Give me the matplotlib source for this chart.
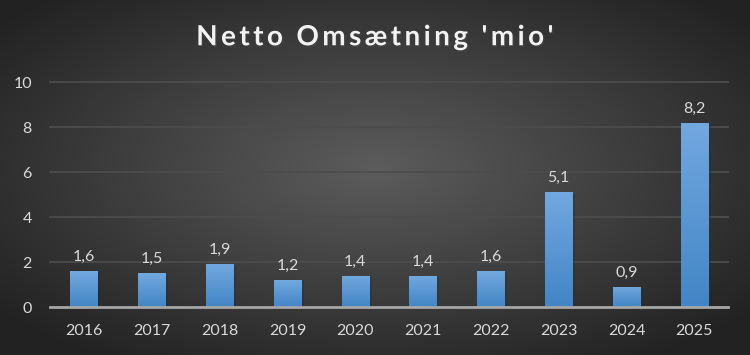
import matplotlib.pyplot as plt
import matplotlib.patheffects as pe
import numpy as np

# data
years = ['2016', '2017', '2018', '2019', '2020', '2021', '2022', '2023', '2024', '2025']
revenue = [1.6, 1.5, 1.9, 1.2, 1.4, 1.4, 1.6, 5.1, 0.9, 8.2]
labels = ['1,6', '1,5', '1,9', '1,2', '1,4', '1,4', '1,6', '5,1', '0,9', '8,2']
yticks = [0, 2, 4, 6, 8, 10]
title = "Netto Omsætning 'mio'"

plt.rcParams['font.family'] = ['Lato', 'DejaVu Sans']
txt = '#d9d9d9'

fig = plt.figure(figsize=(7.5, 3.55), dpi=100)

# radial background
bg = fig.add_axes([0, 0, 1, 1], zorder=-10)
gx, gy = np.meshgrid(np.linspace(-1, 1, 750), np.linspace(-1, 1, 355))
d = np.sqrt(gx**2 + (gy + 0.05)**2)
d = np.clip(d / 1.3, 0, 1)
light = np.array([0x5c, 0x5c, 0x5c]) / 255
dark = np.array([0x22, 0x22, 0x22]) / 255
img = light[None, None, :] * (1 - d[..., None]) + dark[None, None, :] * d[..., None]
bg.imshow(img, aspect='auto', extent=[0, 1, 0, 1])
bg.axis('off')

ax = fig.add_axes([0.0667, 0.1352, 0.9043, 0.6338])
ax.patch.set_alpha(0)
x = np.arange(len(years))
bars = ax.bar(x, revenue, width=0.4, color='#5b9bd5', zorder=3)

# vertical gradient on each bar
grad = np.linspace(0, 1, 100)[:, None]
top = np.array([0x72, 0xa8, 0xdf]) / 255
bot = np.array([0x42, 0x85, 0xc6]) / 255
gimg = top[None, None, :] * grad[..., None] + bot[None, None, :] * (1 - grad[..., None])
for b in bars:
    b.set_path_effects([pe.SimplePatchShadow(offset=(2, -1), alpha=0.35), pe.Normal()])
    im = ax.imshow(gimg, aspect='auto', origin='lower', zorder=4,
                   extent=[b.get_x(), b.get_x() + b.get_width(), 0, b.get_height()])
    im.set_clip_path(b)

for xi, v, lab in zip(x, revenue, labels):
    ax.annotate(lab, (xi, v), xytext=(0, 5), textcoords='offset points',
                ha='center', va='bottom', color=txt, fontsize=11.5)

ax.set_xlim(-0.5, len(years) - 0.5)
ax.set_ylim(0, 10)
ax.set_yticks(yticks)
ax.set_yticklabels([str(t) for t in yticks])
ax.set_xticks(x)
ax.set_xticklabels(years)
ax.tick_params(length=0, colors=txt, labelsize=11.5)
ax.tick_params(axis='x', pad=12)
ax.tick_params(axis='y', pad=13)
for t in yticks[1:]:
    ax.axhline(t, color='#4c4c4c', lw=1.3, zorder=1, clip_on=False)
for s in ['top', 'right', 'left']:
    ax.spines[s].set_visible(False)
ax.spines['bottom'].set_color('#a6a6a6')
ax.spines['bottom'].set_linewidth(2)
ax.spines['bottom'].set_zorder(5)

# letter-spaced title
spaced = '\u2009'.join(title).replace('\u2009 \u2009', '  ')
fig.text(0.5, 0.895, spaced, ha='center', va='center', color='#f2f2f2',
         fontsize=20, fontweight='bold',
         path_effects=[pe.withSimplePatchShadow(offset=(1, -1), alpha=0.5)])

fig.savefig('out.png', dpi=100)
